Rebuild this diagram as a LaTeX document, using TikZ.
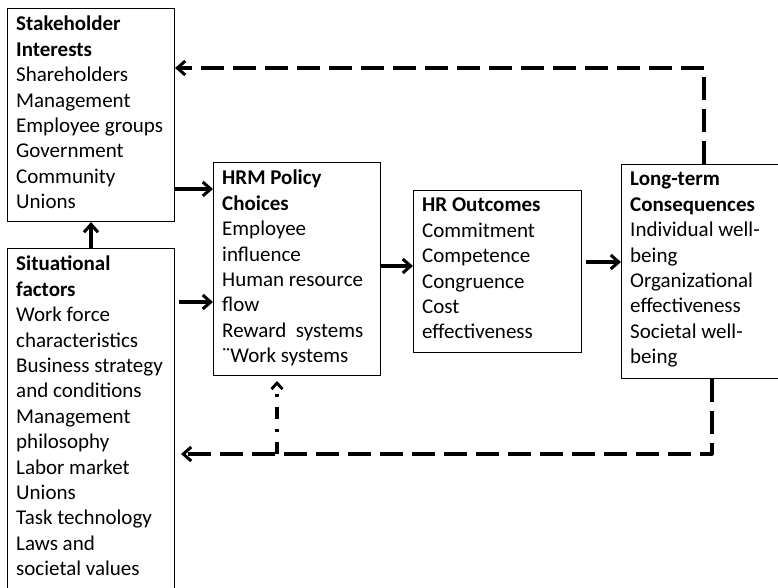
\documentclass[tikz,border=0pt]{standalone}
\usepackage{fontspec}
\setmainfont{Carlito}
\usetikzlibrary{arrows.meta}
\begin{document}
\begin{tikzpicture}[x=1pt,y=-1pt,
  box/.style={draw, line width=1pt, anchor=north west, inner sep=0pt},
  txt/.style={anchor=north west, inner sep=0pt, align=left,
    font=\fontsize{21}{25.4}\selectfont, execute at begin node=\rule{0pt}{16pt}},
  tip/.style={-{Straight Barb[length=8pt,width=14pt,line width=3pt]}},
  flow/.style={line width=3.2pt, tip},
  feedback/.style={line width=3.2pt, dash pattern=on 23pt off 9pt, line join=round, tip},
  dashdot/.style={line width=3.2pt, dash pattern=on 12pt off 10pt on 3pt off 10pt,
    -{Straight Barb[length=6pt,width=11pt,line width=2.8pt]}}
]
\useasboundingbox (0,0) rectangle (778,588);
\clip (0,0) rectangle (778,588);

% boxes
\node[box, minimum width=167pt, minimum height=213pt] (stake) at (7,8) {};
\node[box, minimum width=167pt, minimum height=360pt] (sit) at (7,248) {};
\node[box, minimum width=167pt, minimum height=213pt] (hrm) at (213,162) {};
\node[box, minimum width=168pt, minimum height=162pt] (out) at (413,190) {};
\node[box, minimum width=200pt, minimum height=214pt] (long) at (621,164) {};

% box contents
\node[txt] (stakeT) at ([shift={(9,8)}]stake.north west)
  {\textbf{Stakeholder}\\\textbf{Interests}\\Shareholders\\Management\\Employee groups\\Government\\Community\\Unions};
\node[txt] (sitT) at ([shift={(9,8)}]sit.north west)
  {\textbf{Situational}\\\textbf{factors}\\Work force\\characteristics\\Business strategy\\and conditions\\Management\\philosophy\\Labor market\\Unions\\Task technology\\Laws and\\societal values};
\node[txt] (hrmT) at ([shift={(9,8)}]hrm.north west)
  {\textbf{HRM Policy}\\\textbf{Choices}\\Employee\\influence\\Human resource\\flow\\Reward~ systems\\¨Work systems};
\node[txt] (outT) at ([shift={(9,8)}]out.north west)
  {\textbf{HR Outcomes}\\Commitment\\Competence\\Congruence\\Cost\\effectiveness};
\node[txt] (longT) at ([shift={(9,8)}]long.north west)
  {\textbf{Long-term}\\\textbf{Consequences}\\Individual well-\\being\\Organizational\\effectiveness\\Societal well-\\being};

% routing points
\coordinate (a1) at (0,189);
\coordinate (a2) at (0,302);
\coordinate (a3) at (0,266);
\coordinate (a4) at (0,262);
\coordinate (topturn) at (704,68);
\coordinate (botturn) at (712,454);
\coordinate (ddfoot) at (277,454);

% forward flow
\draw[flow] (sit.north) -- (stake.south);
\draw[flow] (stake.east |- a1) -- (hrm.west |- a1);
\draw[flow] ([xshift=4pt]sit.east |- a2) -- (hrm.west |- a2);
\draw[flow] (hrm.east |- a3) -- (out.west |- a3);
\draw[flow] ([xshift=4pt]out.east |- a4) -- (long.west |- a4);

% feedback loops
\draw[feedback] (topturn |- long.north) -- (topturn) -- (topturn -| stake.east);
\draw[feedback] (botturn |- long.south) -- (botturn) -- ([xshift=6pt]botturn -| sit.east);
\draw[dashdot] (ddfoot) -- ([yshift=-5pt]hrm.south -| ddfoot);
\end{tikzpicture}
\end{document}
